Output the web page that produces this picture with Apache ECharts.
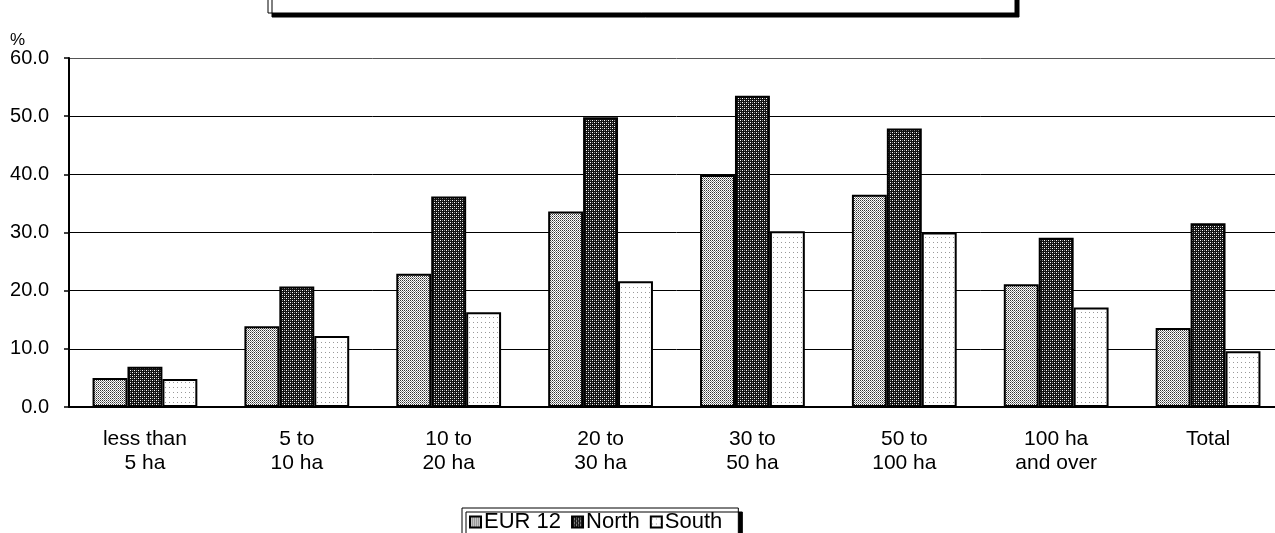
<!DOCTYPE html>
<html>
<head>
<meta charset="utf-8">
<script src="https://cdn.jsdelivr.net/npm/echarts@6/dist/echarts.min.js"></script>
<style>
html,body{margin:0;padding:0;background:#fff;overflow:hidden;width:1275px;height:533px;}
#chart{width:1284px;height:533px;}
</style>
</head>
<body>
<div id="chart"></div>
<script>
const categories = ['less than\n5 ha','5 to\n10 ha','10 to\n20 ha','20 to\n30 ha','30 to\n50 ha','50 to\n100 ha','100 ha\nand over','Total'];
const eur12 = [5.0, 13.9, 22.9, 33.6, 39.9, 36.5, 21.1, 13.6];
const north = [6.9, 20.7, 36.2, 49.8, 53.5, 47.9, 29.1, 31.6];
const south = [4.8, 12.2, 16.3, 21.6, 30.2, 30.0, 17.1, 9.6];
const seriesNames = ['EUR 12','North','South'];
const yTicks = {min:0, max:60, interval:10};

function makePattern(w, h, bg, dots){
  const c = document.createElement('canvas');
  c.width = w; c.height = h;
  const ctx = c.getContext('2d');
  ctx.fillStyle = bg; ctx.fillRect(0,0,w,h);
  dots.forEach(d => { ctx.fillStyle = d[2]; ctx.fillRect(d[0], d[1], 1, 1); });
  return {image: c, repeat: 'repeat'};
}
const patEur = makePattern(2,2,'#ffffff',[[0,0,'#333'],[1,1,'#888']]);
const patNorth = makePattern(4,4,'#111111',[[0,0,'#fff'],[2,2,'#fff'],[2,0,'#888'],[0,2,'#888']]);
const patSouth = makePattern(4,5,'#ffffff',[[1,2,'#999']]);
const pats = [patEur, patNorth, patSouth];
const dataSets = [eur12, north, south];

const font = 'Liberation Sans, Arial, sans-serif';
const chart = echarts.init(document.getElementById('chart'), null, {renderer:'canvas'});
chart.setOption({
  animation: false,
  backgroundColor: '#fff',
  textStyle: {fontFamily: font, color: '#000'},
  grid: {left: 69, right: 0, top: 58, bottom: 126, containLabel: false},
  legend: {
    data: seriesNames,
    left: 462, top: 508,
    icon: 'rect', itemWidth: 11, itemHeight: 11, itemGap: 10,
    padding: [3, 16, 3, 7],
    backgroundColor: '#fff', borderColor: '#000', borderWidth: 1,
    shadowColor: '#000', shadowOffsetX: 4, shadowOffsetY: 4, shadowBlur: 0,
    textStyle: {fontFamily: font, fontSize: 22, color: '#000', padding: [0,0,0,-2]}
  },
  xAxis: {
    type: 'category', data: categories,
    axisLine: {show: true, lineStyle: {color: '#000', width: 2}},
    axisTick: {show: false},
    axisLabel: {fontFamily: font, fontSize: 21, color: '#000', lineHeight: 24, margin: 20, interval: 0}
  },
  yAxis: {
    type: 'value', min: yTicks.min, max: yTicks.max, interval: yTicks.interval,
    axisLine: {show: true, lineStyle: {color: '#000', width: 2}},
    axisTick: {show: true, length: 5, lineStyle: {color: '#000', width: 1.5}},
    axisLabel: {fontFamily: font, fontSize: 20, color: '#000', margin: 20, formatter: v => v.toFixed(1)},
    splitLine: {show: true, lineStyle: {color: ['#000','#000','#000','#000','#000','#000','#555'], width: 1}}
  },
  series: dataSets.map((d, i) => ({
    name: seriesNames[i], type: 'bar', data: d,
    barGap: '0%', barCategoryGap: '31%',
    itemStyle: {color: pats[i], borderColor: '#000', borderWidth: 2}
  })),
  graphic: [
    {type: 'rect', shape: {x: 268, y: -10, width: 747, height: 23},
     style: {fill: '#fff', stroke: '#000', lineWidth: 1, shadowColor: '#000', shadowOffsetX: 4, shadowOffsetY: 4, shadowBlur: 0}},
    {type: 'text', left: 10, top: 32, style: {text: '%', font: '17px ' + font, fill: '#000'}}
  ]
});
</script>
</body>
</html>
